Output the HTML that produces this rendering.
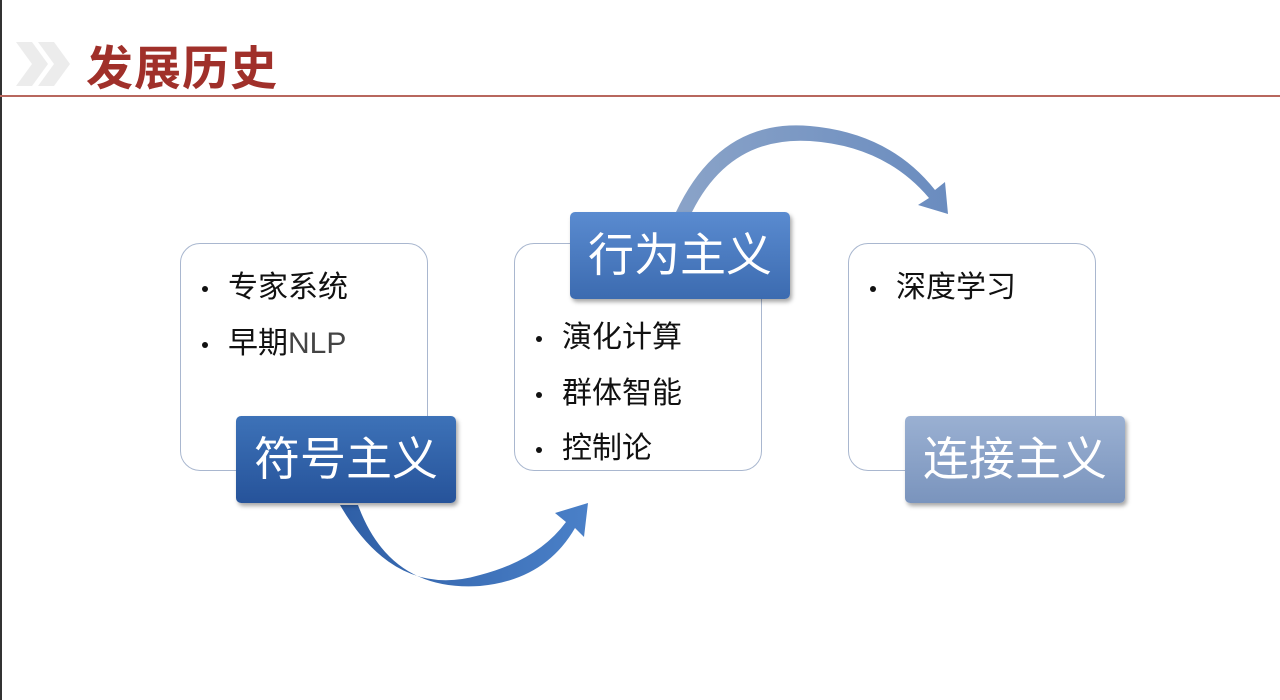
<!DOCTYPE html>
<html><head><meta charset="utf-8"><style>
body{margin:0;width:1280px;height:700px;background:#fff;position:relative;overflow:hidden;font-family:"Liberation Sans","Noto Sans CJK SC",sans-serif}
.title{position:absolute;left:86px;top:30px;font-size:47px;font-weight:bold;color:#a0302a;letter-spacing:1px}
.line{position:absolute;left:0;top:95px;width:1280px;height:2px;background:#b8675e}
.box{position:absolute;top:243px;width:246px;height:226px;border:1.5px solid #a9b7cf;border-radius:20px;background:#fff}
.lab{position:absolute;width:220px;height:87px;border-radius:5px;color:#fff;font-size:46px;text-align:center;line-height:87px;box-shadow:2px 3px 4px rgba(0,0,0,.35)}
.b{position:absolute;font-size:30px;color:#111;line-height:36px}
.b:before{content:"";position:absolute;left:-26px;top:16px;width:6px;height:6px;border-radius:50%;background:#111}
</style></head><body>
<div style="position:absolute;left:0;top:0;width:2px;height:700px;background:#333"></div>
<svg style="position:absolute;left:14px;top:40px" width="60" height="50"><polygon points="2,2 18,2 34,24 18,46 2,46 18,24" fill="#ececec"/><polygon points="24,2 40,2 56,24 40,46 24,46 40,24" fill="#ececec"/></svg>
<div class="title">发展历史</div>
<div class="line"></div>
<svg style="position:absolute;left:0;top:0" width="1280" height="700">
<defs>
<linearGradient id="g1" x1="0" x2="1"><stop offset="0" stop-color="#2f5fa6"/><stop offset="1" stop-color="#4a80c8"/></linearGradient>
<linearGradient id="g2" x1="0" x2="1"><stop offset="0" stop-color="#8aa3c8"/><stop offset="1" stop-color="#6a8cbf"/></linearGradient>
</defs>
<path d="M340,505 Q395,600 480,575 Q538,560 566,522 L555,513 L588,503 L584,537 L575,528 Q545,580 480,586 Q390,592 358,505 Z" fill="url(#g1)"/>
<path d="M676,212 Q720,118 810,126 Q890,133 935,190 L945,182 L948,214 L918,205 L929,198 Q885,146 810,141 Q730,136 692,212 Z" fill="url(#g2)"/>
</svg>
<div class="box" style="left:180px"></div>
<div class="box" style="left:514px"></div>
<div class="box" style="left:848px"></div>
<div class="b" style="left:228px;top:270px">专家系统</div>
<div class="b" style="left:228px;top:326px">早期<span style="color:#444">NLP</span></div>
<div class="b" style="left:562px;top:320px">演化计算</div>
<div class="b" style="left:562px;top:376px">群体智能</div>
<div class="b" style="left:562px;top:431px">控制论</div>
<div class="b" style="left:896px;top:270px">深度学习</div>
<div class="lab" style="left:236px;top:416px;background:linear-gradient(#3d72b8,#26539a)">符号主义</div>
<div class="lab" style="left:570px;top:212px;background:linear-gradient(#5a8bd0,#3c6bb0)">行为主义</div>
<div class="lab" style="left:905px;top:416px;background:linear-gradient(#9ab0d2,#7a94bd)">连接主义</div>
</body></html>
